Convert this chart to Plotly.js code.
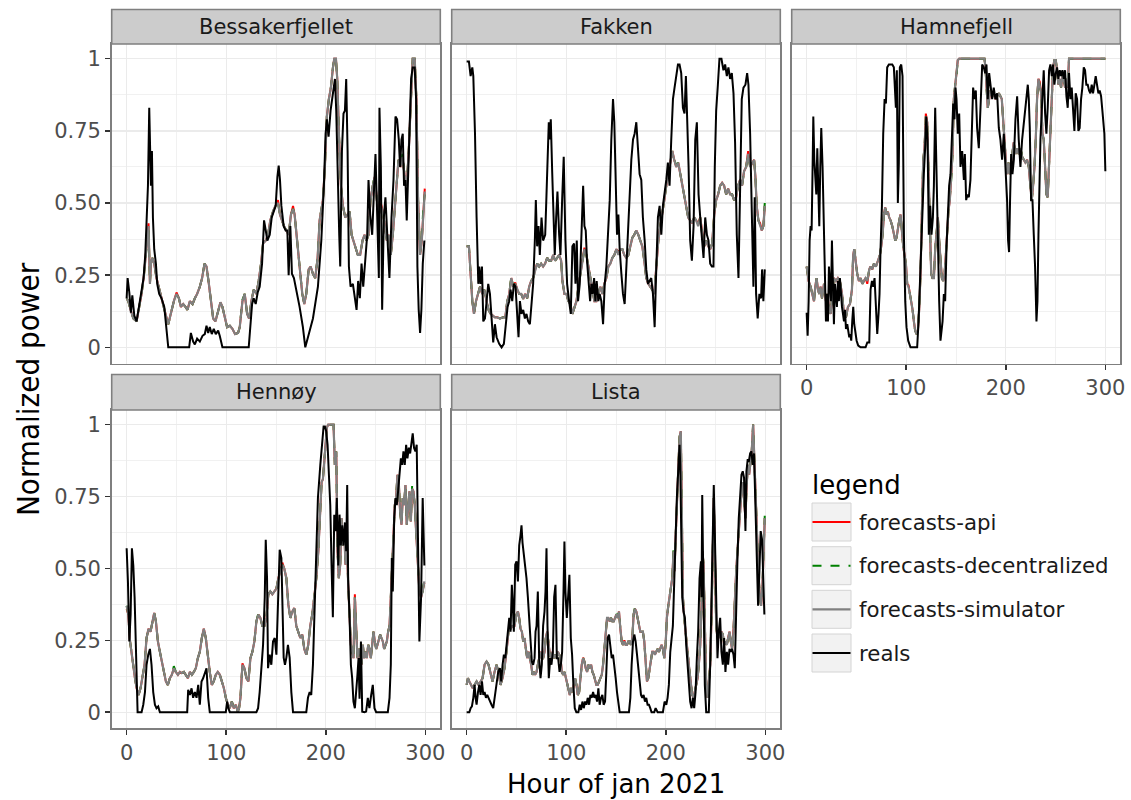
<!DOCTYPE html>
<html>
<head>
<meta charset="utf-8">
<script src="https://cdn.plot.ly/plotly-3.0.1.min.js"></script>
<style>html,body{margin:0;padding:0;background:#fff;}#chart{width:1131px;height:800px;}</style>
</head>
<body>
<div id="chart"></div>
<script>
// ---------------- DATA ----------------
const sites = ["Bessakerfjellet", "Fakken", "Hamnefjell", "Hennøy", "Lista"];
const seriesNames = ["forecasts-api", "forecasts-decentralized", "forecasts-simulator", "reals"];
const xTickVals = [0, 100, 200, 300];
const xTickText = ["0", "100", "200", "300"];
const yTickVals = [0, 0.25, 0.5, 0.75, 1];
const yTickText = ["0", "0.25", "0.50", "0.75", "1"];

// Bessakerfjellet
const bessRealHours = [0,1,2.7,4.3,5.7,7.7,10,11.7,13.4,15.7,17,18.7,20,21.4,22.7,23.4,24.4,25.4,26.4,27.7,29.4,30.7,32.7,35,37.8,41.8,62.8,64.5,66.8,68.5,70.8,73.5,76.2,78.5,80.2,81.9,83.5,85.5,87.5,89.5,91.9,93.5,96.2,122.6,124.3,126,127.6,129.6,131.6,133.6,136,138,139.7,141.3,143.7,145.7,147.7,149.7,151.4,152.7,154,155.4,157.7,159.7,161.4,162.7,164.4,166,168,170.4,173.7,177,179.4,182.1,187.1,192.1,195.5,198.1,199.8,201.1,202.8,204.8,207.2,209.2,210.5,212.2,213.5,214.5,216.2,217.8,219.2,220.5,221.9,223.2,224.9,227.2,228.9,230.9,232.5,234.2,235.9,237.6,239.6,241.6,242.9,244.6,246.6,248.6,249.9,251.6,253.3,253.9,255.3,256.6,258.3,259.9,261.9,263.9,266,268,270,271.6,273.3,274.6,276,277.3,278.6,280,281.3,282.7,284,285.7,287.3,289.3,290.7,292,293.3,294.7,296,297.4,299];
const bessReal = [0.17,0.24,0.19,0.12,0.18,0.11,0.09,0.13,0.17,0.21,0.24,0.32,0.42,0.56,0.83,0.68,0.56,0.68,0.45,0.34,0.29,0.22,0.185,0.17,0.14,0,0,0.05,0.02,0.01,0.03,0.02,0.04,0.046,0.075,0.05,0.07,0.046,0.064,0.046,0.058,0.04,0,0,0.064,0.15,0.17,0.15,0.19,0.21,0.29,0.44,0.405,0.37,0.39,0.45,0.47,0.49,0.59,0.63,0.58,0.49,0.42,0.405,0.405,0.25,0.42,0.255,0.24,0.2,0.14,0.07,0,0.035,0.1,0.21,0.37,0.56,0.74,0.79,0.73,0.82,0.88,0.93,0.82,0.51,0.39,0.28,0.68,0.81,0.82,0.93,0.68,0.28,0.21,0.22,0.17,0.13,0.23,0.17,0.29,0.21,0.3,0.39,0.58,0.46,0.39,0.59,0.67,0.46,0.24,0.83,0.625,0.13,0.45,0.52,0.39,0.24,0.45,0.58,0.8,0.79,0.72,0.625,0.72,0.74,0.56,0.58,0.44,0.6,0.79,0.93,0.97,0.97,0.86,0.28,0.13,0.05,0.13,0.29,0.37];
const bessFcHours = [0,1.7,4,6.7,10,12.7,15,17.4,20,22,23.4,24.4,25.7,27.7,30,32.7,36,39,41.8,44.1,47.4,50.1,52.5,54.5,56.8,59.1,61.1,63.5,66.2,68.5,70.8,73.5,75.8,78.2,80.2,82.2,84.5,86.9,89.2,91.9,94.2,96.2,98.6,100.9,103.6,106.2,108.9,111.9,113.6,116.3,118.6,121,123,125.3,127.6,130.3,132.6,135,137,139.7,142,144.3,147,149.3,152,154,156,158,160.4,162.7,165,167.1,168.7,170.4,172.4,174.4,176.4,178.4,180.4,182.8,184.8,187.1,189.4,191.8,193.8,195.5,197.1,199.1,201.1,203.1,205.1,207.2,208.5,210.2,211.5,213.2,215.2,217.2,219.5,221.9,223.9,225.9,227.9,229.9,232.2,234.5,236.9,238.9,240.9,242.9,244.9,247.2,249.2,251.3,253.3,255.3,257.3,259.3,261.3,263.3,265.3,267.3,269.3,271.3,273,275,277,279,281.3,283.3,285.3,287.3,289.3,291,292.7,294.7,296.4,298,299.4];
const bessSim = [0.17,0.16,0.13,0.1,0.09,0.14,0.185,0.25,0.35,0.42,0.22,0.29,0.31,0.29,0.24,0.2,0.16,0.116,0.08,0.116,0.16,0.185,0.17,0.14,0.15,0.14,0.13,0.16,0.15,0.17,0.185,0.21,0.24,0.29,0.28,0.23,0.16,0.1,0.09,0.13,0.156,0.14,0.1,0.07,0.075,0.064,0.046,0.05,0.07,0.16,0.185,0.116,0.1,0.16,0.2,0.185,0.23,0.29,0.36,0.37,0.39,0.44,0.47,0.49,0.5,0.46,0.44,0.42,0.405,0.39,0.46,0.48,0.46,0.39,0.32,0.255,0.185,0.15,0.185,0.27,0.28,0.255,0.24,0.31,0.44,0.47,0.51,0.625,0.8,0.86,0.9,0.97,1,1,0.93,0.74,0.56,0.49,0.45,0.46,0.47,0.39,0.37,0.35,0.32,0.32,0.37,0.39,0.37,0.39,0.51,0.56,0.59,0.51,0.46,0.49,0.47,0.42,0.37,0.39,0.32,0.39,0.49,0.58,0.65,0.625,0.66,0.6,0.56,0.68,0.86,1,1,0.86,0.51,0.32,0.37,0.49,0.54];
const bessApi = [0.17,0.16,0.13,0.1,0.09,0.14,0.185,0.25,0.35,0.43,0.22,0.29,0.31,0.29,0.24,0.2,0.16,0.116,0.08,0.116,0.16,0.19,0.17,0.14,0.15,0.14,0.13,0.16,0.15,0.17,0.185,0.21,0.24,0.29,0.28,0.23,0.16,0.1,0.09,0.13,0.156,0.14,0.1,0.07,0.075,0.064,0.046,0.05,0.07,0.16,0.185,0.116,0.1,0.16,0.2,0.185,0.23,0.29,0.36,0.37,0.39,0.44,0.47,0.49,0.51,0.46,0.44,0.42,0.405,0.39,0.46,0.49,0.46,0.39,0.32,0.255,0.185,0.15,0.185,0.27,0.28,0.255,0.24,0.31,0.44,0.47,0.51,0.625,0.8,0.86,0.9,0.97,1,1,0.93,0.74,0.56,0.49,0.45,0.46,0.47,0.39,0.37,0.35,0.32,0.32,0.37,0.39,0.37,0.39,0.51,0.56,0.59,0.51,0.46,0.5,0.47,0.42,0.37,0.39,0.32,0.39,0.49,0.58,0.65,0.625,0.66,0.6,0.56,0.68,0.86,1,1,0.86,0.51,0.32,0.37,0.49,0.55];
const bessDec = [0.17,0.16,0.13,0.1,0.09,0.14,0.185,0.25,0.35,0.42,0.22,0.29,0.31,0.29,0.24,0.2,0.16,0.116,0.08,0.116,0.16,0.185,0.17,0.14,0.15,0.14,0.13,0.16,0.15,0.17,0.185,0.21,0.24,0.29,0.28,0.23,0.16,0.1,0.09,0.13,0.156,0.14,0.1,0.07,0.075,0.064,0.046,0.05,0.07,0.165,0.185,0.116,0.1,0.16,0.2,0.185,0.23,0.29,0.36,0.37,0.39,0.44,0.47,0.49,0.5,0.46,0.44,0.42,0.405,0.39,0.46,0.48,0.46,0.39,0.32,0.255,0.185,0.15,0.185,0.27,0.28,0.255,0.24,0.31,0.44,0.47,0.51,0.625,0.8,0.86,0.9,0.97,1,1,0.93,0.74,0.56,0.49,0.45,0.46,0.47,0.39,0.37,0.35,0.32,0.32,0.37,0.39,0.37,0.39,0.51,0.56,0.6,0.51,0.46,0.49,0.47,0.42,0.37,0.39,0.32,0.39,0.49,0.58,0.65,0.625,0.67,0.6,0.56,0.68,0.86,1,1,0.86,0.51,0.33,0.37,0.49,0.53];

// Fakken
const fakRealHours = [0,2.3,4,5.7,6.7,8.4,10,11.7,12.7,14,15.4,16.7,18.4,20,21.7,23.4,25.1,26.7,28.4,30.1,32.7,35.1,37.4,39.4,41.1,42.8,44.1,45.8,47.4,49.1,50.8,52.1,53.5,55.1,56.8,58.5,60.1,61.8,63.5,65.2,66.8,68.5,69.5,70.8,72.2,73.5,75.2,76.8,78.9,80.2,81.5,82.5,83.5,84.5,85.9,87.2,88.5,89.9,91.2,92.9,94.2,95.9,97.5,99.2,100.9,102.9,104.6,106.2,107.9,109.3,110.6,111.9,113.6,115.3,117,118.3,119.6,120.9,122.6,124,125.3,126.6,128,129.3,130.6,132.3,133.6,135.3,137,138.7,140.3,142,143.7,145.3,147,148.3,149.7,151,152.4,153.7,155.4,157,158.7,160.4,162,163.7,165.4,167.1,168.7,170.4,172.1,173.7,175.4,177,178.8,180.4,182.1,183.8,185.4,187.1,188.8,190.5,192.1,193.8,195.5,197.1,198.8,200.5,202.1,203.8,205.5,207.2,208.8,210.5,212.2,213.8,215.5,217.2,218.8,220.2,221.5,222.9,224.5,226.2,227.9,229.6,231.2,232.9,234.6,236.2,237.9,239.6,241.3,242.9,244.6,246.3,247.9,249.2,250.6,252.3,253.9,255.9,257.9,259.6,261.3,262.9,264.6,266.3,268,269.6,271.3,273,274.6,276.3,278,280,281.7,283,284.7,286.4,288,289.3,290.7,292.3,294,295.7,296.7,298,299.4];
const fakReal = [0.99,0.99,0.94,0.97,0.94,0.74,0.45,0.22,0.28,0.22,0.28,0.09,0.1,0.16,0.22,0.185,0.09,0.017,0.08,0.035,0.012,0,0.012,0.09,0.14,0.16,0.2,0.16,0.22,0.21,0.13,0.035,0.16,0.116,0.13,0.1,0.116,0.09,0.08,0.14,0.22,0.37,0.51,0.35,0.42,0.32,0.45,0.37,0.39,0.53,0.65,0.78,0.72,0.79,0.61,0.45,0.32,0.45,0.54,0.39,0.32,0.51,0.66,0.37,0.22,0.16,0.116,0.35,0.36,0.22,0.37,0.16,0.22,0.39,0.56,0.42,0.405,0.3,0.22,0.16,0.22,0.185,0.24,0.16,0.23,0.16,0.185,0.16,0.08,0.22,0.28,0.39,0.51,0.72,0.86,0.78,0.57,0.39,0.46,0.34,0.255,0.185,0.15,0.28,0.39,0.53,0.65,0.72,0.74,0.78,0.68,0.6,0.58,0.45,0.37,0.27,0.22,0.23,0.24,0.185,0.07,0.28,0.45,0.49,0.39,0.49,0.53,0.58,0.64,0.56,0.72,0.86,0.9,0.95,0.98,0.98,0.95,0.83,0.81,0.94,0.8,0.625,0.37,0.3,0.42,0.72,0.78,0.53,0.45,0.39,0.31,0.45,0.39,0.37,0.29,0.28,0.28,0.625,0.82,0.91,1,1,0.96,0.98,0.94,0.97,0.93,0.95,0.88,0.71,0.39,0.24,0.625,0.86,0.9,0.91,0.95,0.91,0.74,0.51,0.21,0.52,0.185,0.1,0.185,0.17,0.27,0.16,0.27];
const fakFcHours = [0,2.3,4,5.7,7.4,9.4,11.4,13.4,15.7,17.7,20,22,24.1,26.1,28.4,30.7,33.4,36.8,38.8,40.8,42.8,44.8,46.8,48.8,50.8,52.8,54.8,56.8,58.8,60.8,62.8,64.8,66.8,68.8,70.8,72.8,74.8,76.8,78.8,80.9,82.9,84.9,86.9,88.9,90.9,92.9,94.9,96.2,98.2,100.2,102.2,104.2,106.2,108.3,110.3,112.3,114.3,116.3,118.3,120.3,122.3,124.3,126.3,128.3,130.3,132.3,134.3,136.3,138.3,140.3,142.3,144.3,146.3,148.3,150.4,152.4,154.4,156.4,158.3,160.4,162.4,164.4,166.4,168.4,170.4,172.4,174.4,176.4,178.4,180.4,182.4,184.4,186.4,188.4,190.5,192.5,194.5,196.5,198.5,200.5,202.5,204.5,206.5,208.5,210.5,212.5,214.5,216.5,218.5,220.5,222.5,224.5,226.5,228.5,230.5,232.5,234.6,236.6,238.6,240.6,242.6,244.6,246.6,248.6,250.6,252.6,254.6,256.6,258.6,260.6,262.6,264.6,266.6,268.6,270.6,272.6,274.6,276.6,278.6,280.7,282.7,284.7,286.7,288.7,290,291.3,293,294.7,296.4,298,299.4];
const fakSim = [0.35,0.35,0.255,0.16,0.116,0.16,0.185,0.21,0.185,0.2,0.16,0.13,0.116,0.11,0.104,0.104,0.1,0.104,0.104,0.16,0.185,0.24,0.21,0.22,0.2,0.185,0.185,0.168,0.185,0.17,0.21,0.23,0.24,0.27,0.29,0.28,0.29,0.28,0.29,0.31,0.3,0.3,0.32,0.3,0.31,0.32,0.3,0.23,0.185,0.185,0.16,0.15,0.116,0.14,0.16,0.21,0.255,0.31,0.34,0.32,0.28,0.23,0.185,0.16,0.16,0.185,0.21,0.185,0.22,0.24,0.28,0.29,0.31,0.32,0.34,0.32,0.34,0.34,0.32,0.31,0.32,0.35,0.38,0.39,0.405,0.39,0.37,0.35,0.3,0.24,0.22,0.21,0.2,0.185,0.28,0.37,0.42,0.46,0.51,0.56,0.6,0.625,0.68,0.65,0.625,0.64,0.6,0.56,0.52,0.49,0.45,0.44,0.43,0.45,0.44,0.42,0.45,0.39,0.35,0.37,0.35,0.34,0.36,0.46,0.51,0.53,0.56,0.57,0.56,0.53,0.55,0.53,0.53,0.51,0.52,0.56,0.58,0.56,0.61,0.625,0.67,0.625,0.64,0.65,0.59,0.49,0.44,0.42,0.405,0.42,0.49];
const fakApi = [0.35,0.35,0.255,0.16,0.116,0.16,0.185,0.21,0.185,0.2,0.16,0.13,0.116,0.11,0.104,0.104,0.1,0.104,0.104,0.16,0.185,0.24,0.21,0.225,0.2,0.185,0.185,0.168,0.185,0.17,0.21,0.23,0.24,0.27,0.29,0.28,0.29,0.28,0.29,0.31,0.3,0.3,0.32,0.3,0.31,0.32,0.3,0.23,0.185,0.185,0.16,0.15,0.116,0.14,0.16,0.21,0.255,0.31,0.345,0.32,0.28,0.23,0.185,0.16,0.16,0.185,0.21,0.185,0.22,0.24,0.28,0.29,0.31,0.32,0.34,0.33,0.34,0.34,0.32,0.31,0.32,0.35,0.38,0.39,0.405,0.39,0.37,0.35,0.3,0.24,0.22,0.21,0.2,0.185,0.28,0.37,0.42,0.46,0.51,0.56,0.6,0.625,0.68,0.65,0.625,0.64,0.6,0.56,0.52,0.49,0.45,0.44,0.43,0.45,0.44,0.43,0.45,0.39,0.35,0.37,0.35,0.34,0.36,0.46,0.51,0.53,0.56,0.57,0.56,0.53,0.55,0.53,0.53,0.51,0.52,0.56,0.58,0.56,0.61,0.625,0.68,0.625,0.64,0.65,0.59,0.49,0.44,0.43,0.405,0.42,0.49];
const fakDec = [0.35,0.35,0.255,0.16,0.116,0.16,0.185,0.21,0.185,0.2,0.16,0.13,0.116,0.11,0.104,0.104,0.1,0.104,0.104,0.16,0.185,0.245,0.21,0.22,0.2,0.185,0.185,0.168,0.185,0.17,0.21,0.23,0.24,0.27,0.29,0.28,0.29,0.28,0.29,0.31,0.3,0.3,0.32,0.3,0.31,0.32,0.3,0.23,0.185,0.185,0.16,0.15,0.116,0.14,0.16,0.21,0.255,0.31,0.34,0.32,0.28,0.23,0.185,0.16,0.16,0.185,0.21,0.185,0.22,0.24,0.28,0.29,0.31,0.32,0.34,0.32,0.34,0.34,0.32,0.31,0.32,0.35,0.38,0.39,0.41,0.39,0.37,0.35,0.3,0.24,0.22,0.21,0.2,0.185,0.28,0.37,0.42,0.46,0.51,0.56,0.6,0.625,0.68,0.65,0.63,0.64,0.6,0.56,0.52,0.49,0.45,0.44,0.43,0.45,0.44,0.42,0.45,0.39,0.35,0.37,0.35,0.34,0.36,0.46,0.51,0.53,0.56,0.57,0.56,0.53,0.55,0.53,0.53,0.51,0.52,0.56,0.58,0.56,0.61,0.625,0.67,0.625,0.64,0.65,0.59,0.49,0.44,0.42,0.405,0.42,0.5];

// Hamnefjell
const hamRealHours = [0,1,2,3,4,5,6,6.7,7.7,8.7,9.7,10.7,11.7,12.7,13.7,14.7,16,17.4,18.4,19.4,20.4,21.4,22.4,23.4,24.4,25.4,26.4,27.4,28.4,29.4,30.4,31.4,32.4,33.4,34.4,35.5,36.5,37.5,38.5,39.5,40.8,41.8,42.8,43.8,44.8,45.8,46.8,47.8,48.8,50.2,51.8,54.2,59.2,60.9,62.9,64.2,65.6,66.9,68.2,69.6,70.9,72.2,73.2,74.2,75.6,76.9,78.3,79.6,80.9,82.6,86,87.6,88.6,89.6,90.6,91.6,92.6,93.6,95,96.3,97.7,99,100.3,102,104.3,111,112.4,113.7,115,116.4,117.7,119,120.1,121.4,122.7,124.1,125.4,126.8,127.8,129.1,130.4,131.8,133.1,134.4,136.5,137.8,139.1,140.5,141.8,143.1,144.5,145.8,147.2,148.5,149.5,150.5,151.8,153.2,154.5,156.2,157.9,158.9,160.2,161.5,162.9,164.5,165.9,167.2,168.6,169.9,171.2,172.9,174.6,176.3,177.9,179.3,180.6,181.9,183.3,184.6,186.3,187.9,189.6,191.3,193,194.6,196.3,198,199.7,201.3,202.3,203.3,204.3,205.4,206.7,208.1,209.7,211.4,213,214.7,216.4,218.1,219.7,220.7,222.1,223.1,224.1,225.4,226.8,228.1,229.4,230.8,231.8,232.8,233.8,234.8,236.1,237.1,238.1,239.5,240.8,242.1,243.5,244.8,246.2,247.5,248.8,250.2,251.5,252.8,254.2,255.5,256.9,258.2,259.5,260.9,262.2,263.5,264.9,266.2,267.6,268.9,270.2,271.6,272.9,274.2,275.6,276.9,278.3,279.6,280.9,282.3,283.6,284.9,286.3,287.6,289,290.3,291.6,293,294.3,295.7,297,298.3,299,300];
const hamReal = [0.12,0.04,0.16,0.37,0.42,0.405,0.625,0.8,0.65,0.6,0.53,0.69,0.53,0.42,0.625,0.76,0.625,0.39,0.16,0.09,0.185,0.09,0.28,0.22,0.16,0.37,0.16,0.08,0.22,0.16,0.14,0.23,0.16,0.24,0.185,0.14,0.116,0.09,0.13,0.064,0.08,0.046,0.035,0.046,0.023,0.09,0.14,0.08,0.046,0.023,0.006,0,0,0.017,0.017,0.2,0.23,0.21,0.24,0.14,0.046,0.116,0.185,0.34,0.49,0.74,0.86,0.845,0.97,0.98,0.98,0.97,0.86,0.83,0.96,0.5,0.64,0.97,0.98,0.94,0.39,0.16,0.07,0.023,0,0,0.09,0.23,0.37,0.51,0.6,0.69,0.8,0.72,0.39,0.49,0.39,0.45,0.56,0.83,0.58,0.34,0.16,0.023,0.09,0.185,0.16,0.35,0.44,0.56,0.6,0.71,0.845,0.79,0.9,0.86,0.74,0.81,0.625,0.68,0.58,0.67,0.51,0.53,0.52,0.58,0.76,0.9,0.86,0.89,0.76,0.69,0.83,0.98,0.97,0.95,0.98,0.86,0.95,0.91,0.86,0.9,0.86,0.88,0.76,0.72,0.65,0.74,0.625,0.51,0.37,0.33,0.51,0.67,0.6,0.65,0.79,0.87,0.72,0.625,0.72,0.78,0.82,0.86,0.91,0.86,0.76,0.51,0.51,0.39,0.28,0.09,0.16,0.39,0.65,0.72,0.82,0.91,0.96,0.81,0.74,0.83,0.96,0.98,0.94,0.98,0.91,0.95,0.97,0.93,0.96,0.94,0.96,0.93,0.96,0.87,0.83,0.95,0.86,0.9,0.82,0.75,0.88,0.86,0.75,0.76,0.86,0.9,0.97,0.96,0.91,0.91,0.89,0.88,0.91,0.88,0.91,0.94,0.91,0.88,0.89,0.87,0.82,0.76,0.74,0.61];
const hamFcHours = [0,2,4,6,7.4,8.7,10,11.4,12.7,14,15.4,17.4,19.4,20.7,22.7,24.1,25.8,27.4,29.4,31.4,33.4,35.5,37.5,39.5,41.5,43.5,45.5,46.8,47.8,49.2,50.8,52.5,54.2,55.9,57.5,59.2,60.9,62.9,64.2,65.9,67.6,69.6,71.6,73.6,74.9,76.3,77.6,78.9,80.3,81.6,82.9,84.3,86,87.6,89,90.3,91.6,93,94.3,95.7,97,98.3,99.7,101,102.3,103.7,105,106.4,107.7,109,110.4,111.7,113,114.4,115.7,117.1,118.4,119.7,121.1,122.4,123.7,125.1,126.4,127.8,129.1,130.4,131.8,133.1,134.4,135.8,137.1,138.5,139.8,141.1,142.5,143.8,145.2,146.5,147.8,149.2,150.5,151.8,153.2,178.6,179.6,180.6,181.9,183.3,184.6,186.3,188,189.6,191.3,193,194.6,196,197.3,198.7,200,201.3,202.7,204,205.4,206.7,208,209.7,211.4,213,214.7,216.4,218.1,219.7,221.4,223.1,224.7,226.1,227.4,228.8,230.1,231.4,232.8,234.1,235.5,236.8,238.1,239.5,240.8,242.1,243.5,244.8,246.2,247.5,248.8,250.2,251.5,252.8,254.2,255.5,256.9,258.2,259.5,260.9,262.2,263.5,264.9,300];
const hamSim = [0.28,0.23,0.21,0.185,0.16,0.21,0.24,0.2,0.185,0.21,0.17,0.22,0.16,0.185,0.13,0.116,0.185,0.24,0.23,0.24,0.23,0.185,0.116,0.104,0.14,0.15,0.2,0.32,0.34,0.29,0.255,0.23,0.24,0.22,0.23,0.24,0.23,0.27,0.28,0.27,0.29,0.28,0.3,0.32,0.35,0.39,0.46,0.485,0.46,0.47,0.45,0.44,0.42,0.39,0.37,0.38,0.42,0.44,0.46,0.39,0.35,0.32,0.29,0.22,0.21,0.185,0.16,0.13,0.09,0.058,0.046,0.058,0.13,0.255,0.46,0.65,0.69,0.8,0.78,0.625,0.45,0.255,0.24,0.24,0.34,0.39,0.45,0.37,0.3,0.24,0.23,0.255,0.32,0.405,0.475,0.51,0.58,0.67,0.86,0.91,0.94,0.995,1,1,0.97,0.9,0.83,0.86,0.89,0.87,0.88,0.86,0.87,0.88,0.87,0.86,0.79,0.69,0.65,0.6,0.64,0.6,0.64,0.69,0.71,0.67,0.69,0.67,0.69,0.66,0.65,0.64,0.65,0.625,0.56,0.51,0.56,0.625,0.72,0.86,0.93,0.91,0.88,0.74,0.72,0.625,0.53,0.52,0.625,0.74,0.88,0.97,0.995,0.995,0.96,0.91,0.93,0.9,0.94,0.93,0.9,0.93,0.9,1,1,1];
const hamApi = [0.28,0.23,0.21,0.185,0.16,0.21,0.24,0.2,0.185,0.21,0.17,0.22,0.16,0.185,0.13,0.116,0.185,0.24,0.23,0.24,0.23,0.185,0.116,0.104,0.14,0.15,0.2,0.32,0.34,0.29,0.255,0.23,0.24,0.22,0.23,0.24,0.22,0.27,0.28,0.27,0.29,0.28,0.3,0.32,0.35,0.39,0.46,0.485,0.46,0.47,0.45,0.44,0.42,0.39,0.37,0.38,0.42,0.44,0.46,0.39,0.35,0.32,0.29,0.22,0.215,0.185,0.16,0.13,0.09,0.058,0.046,0.058,0.13,0.255,0.46,0.65,0.69,0.81,0.78,0.625,0.45,0.255,0.24,0.24,0.34,0.39,0.45,0.37,0.3,0.24,0.23,0.255,0.32,0.405,0.475,0.51,0.58,0.67,0.86,0.91,0.94,0.995,1,1,0.97,0.9,0.83,0.86,0.89,0.87,0.88,0.86,0.87,0.88,0.87,0.86,0.79,0.69,0.65,0.6,0.64,0.6,0.64,0.69,0.71,0.67,0.69,0.67,0.69,0.66,0.65,0.64,0.65,0.625,0.56,0.51,0.56,0.625,0.72,0.86,0.93,0.92,0.88,0.74,0.72,0.625,0.53,0.52,0.625,0.74,0.88,0.97,0.995,0.995,0.96,0.91,0.93,0.9,0.94,0.93,0.9,0.93,0.9,1,1,1];
const hamDec = [0.28,0.23,0.21,0.185,0.16,0.21,0.24,0.2,0.185,0.21,0.17,0.22,0.16,0.185,0.13,0.116,0.185,0.24,0.23,0.24,0.23,0.185,0.116,0.104,0.14,0.15,0.2,0.33,0.34,0.29,0.255,0.23,0.24,0.22,0.23,0.24,0.23,0.27,0.28,0.27,0.29,0.28,0.3,0.32,0.35,0.39,0.46,0.49,0.46,0.47,0.45,0.44,0.42,0.39,0.37,0.38,0.42,0.44,0.46,0.39,0.35,0.32,0.29,0.22,0.21,0.185,0.16,0.13,0.09,0.058,0.046,0.058,0.13,0.255,0.46,0.65,0.69,0.8,0.78,0.625,0.45,0.255,0.24,0.24,0.34,0.39,0.45,0.37,0.3,0.24,0.23,0.255,0.32,0.405,0.475,0.52,0.58,0.67,0.86,0.91,0.94,0.995,1,1,0.97,0.9,0.83,0.86,0.89,0.87,0.88,0.86,0.87,0.88,0.87,0.86,0.79,0.69,0.65,0.6,0.64,0.6,0.64,0.69,0.71,0.67,0.69,0.67,0.7,0.66,0.65,0.64,0.65,0.625,0.56,0.51,0.56,0.625,0.72,0.86,0.93,0.91,0.88,0.74,0.72,0.625,0.53,0.52,0.625,0.74,0.88,0.97,0.995,0.995,0.96,0.91,0.93,0.9,0.94,0.93,0.9,0.93,0.9,1,1,1];

// Hennøy
const henRealHours = [0,1.3,2.7,4,5.3,6.7,8,9.4,11,15,16.7,18.4,20,21.7,23.4,25,26.7,28.4,30,31.7,33.4,60.8,61.8,63.5,65.2,66.8,68.5,70.2,71.9,73.5,75.2,76.8,78.5,80.2,81.9,83.5,99.6,100.9,102.2,103.6,130.3,132,133.6,135.3,137,138.7,139.7,141,142,143.7,145.3,147,148.7,150.4,152,153.7,155.4,156.4,157.7,159,160.4,162,163.7,165.4,167.1,180.4,182.1,183.8,185.4,187.1,189.8,192.1,194.5,196.5,197.8,199.1,200.4,201.8,203.1,204.5,205.8,207.1,208.5,209.8,211.1,212.5,213.8,215.1,216.5,217.8,219.2,220.5,221.5,222.5,223.8,225.2,226.5,227.8,229.2,230.5,231.8,232.9,233.9,235.3,236.6,238.9,240.5,242.2,243.8,245.6,247.2,248.9,250.6,262.3,264,265.3,266.3,267.3,268.7,270,271.3,272.6,274,275.4,276.7,278,279.3,280.7,282,283.4,284.7,286,287.3,288.6,290,291.3,292.7,294,295.7,297.3,299];
const henReal = [0.57,0.455,0.246,0.34,0.57,0.51,0.4,0.165,0,0,0.026,0.07,0.165,0.2,0.22,0.165,0.07,0.026,0.014,0.02,0,0,0.078,0.06,0.083,0.05,0.07,0.05,0.095,0.026,0.107,0.118,0.136,0.153,0.05,0,0,0.037,0.014,0,0,0.014,0.07,0.165,0.234,0.4,0.6,0.466,0.153,0.2,0.165,0.246,0.258,0.2,0.4,0.565,0.536,0.42,0.19,0.165,0.19,0.234,0.19,0.07,0,0,0.05,0.07,0.06,0.165,0.455,0.745,0.86,0.95,0.994,0.994,0.977,0.93,0.84,0.72,0.51,0.33,0.687,0.63,0.745,0.51,0.687,0.58,0.65,0.58,0.66,0.56,0.79,0.455,0.34,0.165,0.118,0.037,0.014,0.06,0.13,0.188,0.047,0.246,0.002,0,0.002,0.05,0.014,0.06,0.095,0.014,0,0,0.05,0.165,0.536,0.42,0.675,0.745,0.72,0.768,0.84,0.883,0.86,0.907,0.86,0.93,0.883,0.92,0.9,0.93,0.97,0.92,0.907,0.93,0.51,0.246,0.4,0.745,0.51];
const henFcHours = [0,1.7,3.3,5.3,6.7,8.4,10,12,14,16,18,20,22,24,26,27.7,29.4,31.4,33.4,35.4,37.4,39.4,41.4,43.4,45.4,47.4,49.4,51.5,53.5,55.5,57.5,59.5,61.5,63.5,65.5,67.5,69.5,71.5,73.5,75.5,77.5,79.5,81.5,83.5,85.5,87.5,89.5,91.5,93.6,95.6,97.6,99.6,101.6,103.6,105.6,107.6,109.6,111.6,112.9,114.3,116.3,118.3,120.3,122.3,124.3,126.3,128.3,130.3,132.3,134.3,136.3,138.3,140.3,142.3,144.3,146.3,148.3,150.4,152.4,154.4,156.4,158.3,160.4,162.4,164.4,166.4,168.4,170.4,172.4,174.4,176.4,178.4,180.4,182.4,184.4,186.4,188.4,190.5,192.5,194.5,195.8,197.1,198.4,199.8,201.1,202.4,207.8,209.1,210.5,211.8,213.1,214.5,215.8,217.1,218.5,219.8,221.1,222.5,223.8,225.2,226.5,227.8,229.2,230.5,231.8,233.2,234.5,235.9,237.2,238.5,239.9,241.2,242.6,243.9,245.2,246.6,247.9,249.2,250.6,251.9,253.2,254.6,255.9,257.3,258.6,259.9,261.3,262.6,264,265.3,266.6,268,269.3,270.6,272,273.3,274.6,276,277.3,278.6,280,281.3,282.7,284,285.4,286.7,288,289.4,290.7,292.4,294,295.7,297.3,299];
const henSim = [0.37,0.34,0.25,0.19,0.153,0.118,0.084,0.06,0.084,0.118,0.165,0.258,0.29,0.28,0.316,0.345,0.316,0.246,0.21,0.176,0.14,0.107,0.095,0.118,0.13,0.153,0.14,0.13,0.14,0.136,0.14,0.13,0.118,0.14,0.13,0.14,0.153,0.188,0.21,0.258,0.29,0.258,0.188,0.14,0.095,0.107,0.13,0.14,0.13,0.107,0.084,0.05,0.026,0.014,0.037,0.014,0.026,0.002,0.014,0.05,0.165,0.153,0.118,0.107,0.188,0.21,0.246,0.316,0.34,0.328,0.3,0.3,0.328,0.41,0.42,0.41,0.42,0.43,0.466,0.49,0.513,0.5,0.466,0.374,0.328,0.35,0.362,0.3,0.28,0.258,0.27,0.22,0.2,0.234,0.3,0.34,0.4,0.466,0.56,0.72,0.8,0.81,0.86,0.92,0.99,1,1,0.86,0.907,0.56,0.466,0.513,0.675,0.58,0.63,0.513,0.6,0.443,0.328,0.234,0.21,0.188,0.4,0.258,0.188,0.22,0.21,0.165,0.234,0.188,0.21,0.188,0.234,0.22,0.188,0.234,0.28,0.246,0.22,0.234,0.258,0.27,0.258,0.246,0.22,0.234,0.246,0.28,0.3,0.4,0.49,0.58,0.72,0.745,0.826,0.8,0.7,0.652,0.745,0.72,0.79,0.652,0.72,0.768,0.663,0.777,0.768,0.72,0.63,0.513,0.42,0.4,0.42,0.455];
const henApi = [0.36,0.34,0.25,0.19,0.153,0.118,0.084,0.06,0.084,0.118,0.165,0.258,0.29,0.28,0.316,0.345,0.316,0.246,0.21,0.176,0.14,0.107,0.095,0.118,0.13,0.153,0.14,0.13,0.14,0.136,0.14,0.13,0.118,0.14,0.13,0.14,0.153,0.188,0.21,0.258,0.29,0.258,0.188,0.14,0.095,0.107,0.13,0.14,0.13,0.107,0.084,0.05,0.026,0.014,0.037,0.014,0.026,0.002,0.014,0.05,0.17,0.153,0.118,0.107,0.188,0.21,0.246,0.316,0.34,0.328,0.3,0.3,0.328,0.41,0.42,0.41,0.42,0.43,0.466,0.49,0.52,0.5,0.466,0.374,0.328,0.35,0.362,0.3,0.28,0.258,0.27,0.22,0.2,0.234,0.3,0.34,0.4,0.466,0.56,0.72,0.8,0.81,0.86,0.92,0.99,1,1,0.86,0.907,0.56,0.466,0.513,0.675,0.58,0.63,0.513,0.6,0.443,0.328,0.234,0.21,0.188,0.41,0.258,0.188,0.22,0.21,0.165,0.234,0.188,0.21,0.188,0.234,0.22,0.188,0.234,0.28,0.246,0.22,0.234,0.258,0.27,0.258,0.246,0.22,0.234,0.246,0.28,0.3,0.4,0.49,0.58,0.72,0.745,0.826,0.8,0.7,0.652,0.745,0.72,0.79,0.652,0.72,0.768,0.663,0.777,0.768,0.72,0.63,0.513,0.42,0.4,0.42,0.45];
const henDec = [0.37,0.34,0.25,0.19,0.153,0.118,0.084,0.06,0.084,0.118,0.165,0.258,0.29,0.28,0.316,0.345,0.316,0.246,0.21,0.176,0.14,0.107,0.095,0.118,0.13,0.16,0.14,0.13,0.14,0.136,0.14,0.13,0.118,0.14,0.13,0.14,0.153,0.188,0.21,0.258,0.29,0.258,0.188,0.14,0.095,0.107,0.13,0.14,0.13,0.107,0.084,0.05,0.026,0.014,0.037,0.02,0.026,0.002,0.014,0.05,0.165,0.153,0.118,0.107,0.188,0.21,0.246,0.316,0.345,0.328,0.3,0.3,0.328,0.41,0.42,0.41,0.42,0.43,0.466,0.49,0.513,0.5,0.466,0.374,0.328,0.35,0.362,0.3,0.28,0.258,0.27,0.22,0.2,0.234,0.3,0.34,0.4,0.466,0.56,0.72,0.8,0.81,0.86,0.92,0.99,1,1,0.86,0.907,0.56,0.466,0.513,0.675,0.58,0.63,0.513,0.6,0.443,0.328,0.234,0.21,0.188,0.4,0.258,0.188,0.22,0.21,0.165,0.234,0.188,0.21,0.188,0.234,0.22,0.188,0.234,0.28,0.246,0.22,0.234,0.258,0.27,0.258,0.246,0.22,0.234,0.246,0.28,0.3,0.4,0.49,0.58,0.72,0.745,0.83,0.8,0.7,0.652,0.745,0.72,0.79,0.652,0.72,0.768,0.663,0.787,0.768,0.72,0.63,0.513,0.42,0.4,0.42,0.465];

// Lista
const lisRealHours = [0,2.7,4,5.3,6.7,8,9,10,11.4,12.7,14,15.4,16.7,18,19.4,20.7,22,23.4,25,26.7,28.4,30,31.7,33.4,34.7,36.1,37.4,38.8,40.1,41.4,42.8,44.1,45.4,46.4,47.4,48.8,50.1,51.5,52.8,54.1,55.1,56.1,57.5,58.8,60.1,61.5,62.8,64.2,65.5,66.8,68.2,69.2,70.2,71.5,72.8,74.2,75.5,76.8,78.2,79.2,80.2,81.2,82.5,83.9,85.2,86.6,87.9,89.2,90.6,91.9,93.3,94.6,95.9,97.3,98.2,99.2,100.6,101.9,103.2,104.6,105.9,107.2,108.6,110.2,112.2,113.6,114.9,116.3,117.6,119,120.3,121.6,123,124.3,125.6,127,128.3,129.6,131,132.3,133.6,135,136.3,137.6,139,140.3,141.6,143,144.3,145.7,147,148.3,149.7,151,152.4,153.7,163,164.4,165.7,167.1,168.4,169.7,171.1,172.4,173.7,175.1,176.4,177.7,179.1,180.4,181.7,183.1,184.4,185.7,188.4,189.8,191.8,197.1,198.8,200.5,201.8,203.1,204.5,205.8,207.1,208.5,209.8,211.1,212.5,213.8,214.5,215.5,216.5,217.8,219.2,220.5,221.9,223.2,224.5,225.9,227.2,228.5,229.9,231.2,232.5,233.9,235.3,235.9,236.6,237.3,238.2,239.2,240.6,243.2,244.6,245.9,247.2,248.2,249.2,250.6,251.9,253.2,254.6,255.9,257.3,258.6,259.9,261.3,262.6,264,265.3,266.6,268,269.3,270.6,272,273.3,274.6,276,277.3,278.6,280,281,282.3,283.3,284.7,286,287.3,288.6,290,291.3,292.7,294,295.3,296.7,298,299];
const lisReal = [0,0,0.014,0.02,0.05,0.095,0.05,0.026,0.07,0.095,0.06,0.107,0.06,0.07,0.05,0.06,0.05,0.037,0.026,0.014,0.06,0.095,0.14,0.153,0.107,0.165,0.2,0.188,0.234,0.3,0.328,0.28,0.443,0.37,0.28,0.513,0.525,0.455,0.58,0.615,0.65,0.59,0.545,0.513,0.466,0.4,0.328,0.246,0.176,0.165,0.188,0.28,0.3,0.42,0.188,0.118,0.165,0.3,0.35,0.42,0.57,0.3,0.118,0.188,0.165,0.21,0.4,0.443,0.188,0.188,0.14,0.165,0.21,0.42,0.594,0.42,0.328,0.4,0.478,0.258,0.2,0.095,0.014,0,0,0.026,0.008,0.037,0.014,0.037,0.026,0.05,0.026,0.06,0.05,0.07,0.05,0.06,0.037,0.083,0.026,0.05,0.06,0.026,0.037,0.14,0.258,0.27,0.234,0.188,0.2,0.165,0.118,0.07,0.026,0,0,0.05,0.165,0.246,0.27,0.246,0.2,0.153,0.107,0.06,0.05,0.06,0.037,0.05,0.026,0.026,0.014,0,0,0.014,0,0,0.037,0.026,0.05,0.095,0.21,0.258,0.3,0.455,0.63,0.745,0.84,0.93,0.86,0.56,0.4,0.35,0.328,0.234,0.165,0.095,0.037,0.014,0.05,0.014,0.07,0.188,0.28,0.466,0.525,0.4,0.755,0.56,0.3,0.095,0,0,0.165,0.4,0.63,0.79,0.63,0.328,0.188,0.28,0.328,0.21,0.165,0.258,0.14,0.21,0.165,0.22,0.21,0.22,0.2,0.153,0.4,0.536,0.675,0.745,0.826,0.838,0.815,0.63,0.838,0.88,0.87,0.9,0.907,0.86,0.9,0.72,0.513,0.37,0.49,0.63,0.6,0.45,0.34];
const lisFcHours = [0,1.3,2.7,4,6,8,10,12,14,16,18,20,22,24,26,28,30,32,34,36,38,40,42,44,46,48,50.1,51.5,52.8,54.1,55.5,56.8,58.1,59.5,60.8,62.1,63.5,64.8,66.2,67.5,68.8,70.2,71.5,72.8,74.2,75.5,76.8,78.2,79.5,80.9,82.2,83.6,84.9,86.3,87.6,89,90.3,91.6,93,94.3,95.6,97,98.3,99.6,101,102.3,103.6,104.9,106.2,107.6,108.9,110.3,111.6,113,114.3,115.6,117,118.3,119.6,121,122.3,123.6,125,126.3,127.6,129,130.3,131.6,133,134.3,135.7,137,138.3,139.7,141,142.3,143.7,145,146.3,147.7,149,150.4,151.7,153,154.4,155.7,157,158.4,159.7,161,162.4,163.7,165,166.4,167.7,169,170.4,171.7,173,174.4,175.7,177,178.4,179.8,181.1,182.4,183.7,185.1,186.4,187.8,189.1,190.4,191.8,193.1,194.5,195.8,197.1,198.5,199.8,201.1,202.5,203.8,205.1,206.5,207.8,208.8,209.8,211.1,212.5,213.8,215.1,216.2,217.2,218.5,219.8,221.2,222.5,223.9,225.2,226.5,227.9,229.2,230.6,231.9,233.2,234.6,235.9,236.9,237.9,239.2,240.6,241.9,243.2,244.6,245.9,247.2,248.2,249.2,250.6,251.9,253.2,254.6,255.9,257.3,258.6,259.9,261.3,262.6,264,265.3,266.6,268,269.3,270.7,272,273.3,274.7,276,277.3,278.7,280,281,282.3,283.7,285,286.3,287.7,289,290.4,291.7,293,294.4,295.7,297.1,298.4,299.4];
const lisSim = [0.095,0.118,0.107,0.095,0.084,0.095,0.107,0.095,0.107,0.118,0.165,0.176,0.165,0.13,0.107,0.14,0.165,0.14,0.095,0.118,0.153,0.21,0.28,0.29,0.3,0.3,0.34,0.35,0.328,0.29,0.28,0.246,0.258,0.22,0.188,0.21,0.188,0.165,0.13,0.14,0.13,0.14,0.165,0.188,0.21,0.188,0.188,0.21,0.258,0.28,0.234,0.2,0.188,0.21,0.188,0.2,0.188,0.21,0.2,0.188,0.14,0.13,0.14,0.118,0.095,0.07,0.06,0.084,0.07,0.095,0.118,0.095,0.06,0.07,0.118,0.165,0.188,0.176,0.153,0.14,0.165,0.153,0.165,0.14,0.13,0.107,0.095,0.095,0.107,0.118,0.13,0.165,0.21,0.28,0.328,0.328,0.316,0.328,0.316,0.316,0.328,0.34,0.328,0.35,0.29,0.246,0.234,0.246,0.234,0.234,0.246,0.246,0.234,0.258,0.34,0.36,0.35,0.328,0.316,0.28,0.28,0.28,0.246,0.165,0.107,0.118,0.153,0.188,0.21,0.21,0.2,0.21,0.22,0.21,0.22,0.234,0.22,0.188,0.234,0.328,0.37,0.4,0.42,0.466,0.56,0.49,0.6,0.72,0.84,0.957,0.977,0.63,0.4,0.328,0.28,0.21,0.188,0.14,0.095,0.06,0.05,0.07,0.095,0.118,0.165,0.234,0.37,0.56,0.513,0.328,0.095,0.05,0.095,0.165,0.328,0.56,0.745,0.58,0.3,0.258,0.28,0.258,0.28,0.27,0.234,0.246,0.234,0.258,0.28,0.246,0.22,0.28,0.4,0.49,0.56,0.63,0.7,0.768,0.8,0.745,0.675,0.768,0.86,0.826,0.86,0.907,1,0.86,0.745,0.6,0.49,0.4,0.37,0.44,0.56,0.675];
const lisApi = [0.095,0.118,0.107,0.095,0.084,0.095,0.107,0.095,0.107,0.118,0.165,0.176,0.165,0.13,0.107,0.14,0.165,0.14,0.095,0.118,0.153,0.21,0.28,0.29,0.3,0.3,0.34,0.35,0.328,0.29,0.28,0.246,0.258,0.22,0.188,0.21,0.188,0.165,0.13,0.14,0.13,0.14,0.165,0.188,0.21,0.188,0.188,0.21,0.258,0.28,0.234,0.2,0.188,0.21,0.188,0.2,0.188,0.21,0.2,0.188,0.14,0.13,0.14,0.118,0.095,0.07,0.06,0.084,0.07,0.095,0.118,0.095,0.06,0.07,0.118,0.165,0.19,0.176,0.153,0.14,0.165,0.153,0.165,0.14,0.13,0.107,0.095,0.095,0.107,0.118,0.13,0.165,0.21,0.28,0.328,0.328,0.316,0.328,0.316,0.316,0.328,0.34,0.328,0.35,0.29,0.246,0.234,0.25,0.234,0.234,0.246,0.246,0.234,0.258,0.34,0.36,0.35,0.328,0.316,0.28,0.28,0.28,0.246,0.165,0.107,0.118,0.153,0.188,0.21,0.21,0.2,0.21,0.22,0.21,0.22,0.234,0.22,0.188,0.234,0.328,0.37,0.4,0.42,0.466,0.56,0.49,0.6,0.72,0.84,0.957,0.977,0.63,0.4,0.328,0.28,0.21,0.188,0.14,0.095,0.06,0.05,0.07,0.095,0.118,0.165,0.234,0.37,0.56,0.513,0.328,0.095,0.05,0.095,0.165,0.328,0.56,0.745,0.58,0.3,0.258,0.28,0.258,0.28,0.27,0.234,0.246,0.234,0.258,0.28,0.246,0.22,0.29,0.4,0.49,0.56,0.63,0.7,0.768,0.8,0.745,0.675,0.768,0.86,0.826,0.86,0.907,1,0.86,0.745,0.6,0.49,0.4,0.37,0.44,0.56,0.675];
const lisDec = [0.095,0.118,0.107,0.095,0.084,0.095,0.107,0.095,0.107,0.118,0.165,0.176,0.165,0.13,0.107,0.14,0.165,0.14,0.095,0.118,0.153,0.21,0.28,0.29,0.3,0.3,0.34,0.35,0.328,0.29,0.28,0.246,0.258,0.22,0.188,0.21,0.188,0.165,0.13,0.14,0.13,0.14,0.165,0.188,0.21,0.188,0.188,0.21,0.258,0.28,0.234,0.2,0.188,0.21,0.188,0.2,0.188,0.21,0.2,0.188,0.14,0.13,0.14,0.118,0.095,0.07,0.06,0.084,0.07,0.095,0.118,0.095,0.06,0.07,0.118,0.165,0.188,0.176,0.153,0.14,0.165,0.153,0.165,0.14,0.13,0.107,0.095,0.095,0.107,0.118,0.13,0.165,0.21,0.28,0.328,0.328,0.316,0.328,0.316,0.316,0.328,0.345,0.328,0.35,0.29,0.246,0.234,0.246,0.234,0.234,0.246,0.246,0.234,0.258,0.34,0.365,0.35,0.328,0.316,0.28,0.28,0.28,0.246,0.165,0.107,0.118,0.153,0.188,0.21,0.21,0.2,0.21,0.22,0.21,0.22,0.234,0.22,0.188,0.234,0.328,0.37,0.4,0.42,0.466,0.57,0.49,0.6,0.72,0.84,0.957,0.98,0.63,0.4,0.328,0.28,0.21,0.188,0.14,0.095,0.06,0.05,0.07,0.095,0.118,0.165,0.234,0.37,0.56,0.513,0.328,0.095,0.05,0.095,0.165,0.328,0.56,0.745,0.58,0.3,0.258,0.28,0.258,0.28,0.27,0.234,0.246,0.234,0.258,0.28,0.246,0.22,0.28,0.4,0.49,0.56,0.63,0.7,0.768,0.8,0.745,0.675,0.768,0.86,0.826,0.86,0.907,1,0.86,0.745,0.6,0.49,0.4,0.37,0.44,0.56,0.685];

// ---------------- CHART ----------------
const W = 1131, H = 800;
const px = v => v / W;
const py = v => 1 - v / H;
const FONT = "DejaVu Sans, Verdana, sans-serif";
const colors = {api: "#FF0000", dec: "#008000", sim: "#808080", real: "#000000"};

const colX = [[111.7, 440.3], [451.7, 780.3], [791.7, 1120.3]];
const rowY = [[44, 363.5], [410, 728.3]];
const stripY = [[9.5, 44], [374.5, 410]];

const panels = [
  {site: sites[0], col: 0, row: 0, rh: bessRealHours, r: bessReal, fh: bessFcHours, api: bessApi, dec: bessDec, sim: bessSim, xl: false, yl: true},
  {site: sites[1], col: 1, row: 0, rh: fakRealHours, r: fakReal, fh: fakFcHours, api: fakApi, dec: fakDec, sim: fakSim, xl: false, yl: false},
  {site: sites[2], col: 2, row: 0, rh: hamRealHours, r: hamReal, fh: hamFcHours, api: hamApi, dec: hamDec, sim: hamSim, xl: true, yl: false},
  {site: sites[3], col: 0, row: 1, rh: henRealHours, r: henReal, fh: henFcHours, api: henApi, dec: henDec, sim: henSim, xl: true, yl: true},
  {site: sites[4], col: 1, row: 1, rh: lisRealHours, r: lisReal, fh: lisFcHours, api: lisApi, dec: lisDec, sim: lisSim, xl: true, yl: false}
];

const traces = [];
const layout = {
  width: W, height: H,
  margin: {l: 0, r: 0, t: 0, b: 0},
  paper_bgcolor: "#FFFFFF",
  plot_bgcolor: "#FFFFFF",
  showlegend: false,
  font: {family: FONT, color: "#1A1A1A"},
  shapes: [],
  annotations: []
};

panels.forEach((p, i) => {
  const xa = i === 0 ? "x" : "x" + (i + 1);
  const ya = i === 0 ? "y" : "y" + (i + 1);
  const common = {xaxis: xa, yaxis: ya, mode: "lines", hoverinfo: "skip"};
  traces.push(Object.assign({}, common, {name: seriesNames[0], x: p.fh, y: p.api, line: {color: colors.api, width: 2}}));
  traces.push(Object.assign({}, common, {name: seriesNames[1], x: p.fh, y: p.dec, line: {color: colors.dec, width: 2, dash: "dash"}}));
  traces.push(Object.assign({}, common, {name: seriesNames[2], x: p.fh, y: p.sim, line: {color: colors.sim, width: 2.2}}));
  traces.push(Object.assign({}, common, {name: seriesNames[3], x: p.rh, y: p.r, line: {color: colors.real, width: 2}}));

  const xk = i === 0 ? "xaxis" : "xaxis" + (i + 1);
  const yk = i === 0 ? "yaxis" : "yaxis" + (i + 1);
  layout[xk] = {
    domain: [px(colX[p.col][0]), px(colX[p.col][1])],
    anchor: ya,
    range: [-15, 315],
    tickvals: xTickVals, ticktext: xTickText,
    showticklabels: p.xl,
    ticks: p.xl ? "outside" : "",
    ticklen: 5, tickwidth: 1.5, tickcolor: "#333333",
    tickfont: {family: FONT, size: 21, color: "#4D4D4D"},
    showgrid: true, gridcolor: "#EBEBEB", gridwidth: 1.4,
    minor: {tickvals: [50, 150, 250], showgrid: true, gridcolor: "#EBEBEB", gridwidth: 0.7, ticks: ""},
    zeroline: false,
    showline: true, mirror: true, linecolor: "#7F7F7F", linewidth: 1.6,
    fixedrange: true
  };
  layout[yk] = {
    domain: [py(rowY[p.row][1]), py(rowY[p.row][0])],
    anchor: xa,
    range: [-0.056, 1.051],
    tickvals: yTickVals, ticktext: yTickText,
    showticklabels: p.yl,
    ticks: p.yl ? "outside" : "",
    ticklen: 5, tickwidth: 1.5, tickcolor: "#333333",
    tickfont: {family: FONT, size: 21, color: "#4D4D4D"},
    showgrid: true, gridcolor: "#EBEBEB", gridwidth: 1.4,
    minor: {tickvals: [0.125, 0.375, 0.625, 0.875], showgrid: true, gridcolor: "#EBEBEB", gridwidth: 0.7, ticks: ""},
    zeroline: false,
    showline: true, mirror: true, linecolor: "#7F7F7F", linewidth: 1.6,
    fixedrange: true
  };

  // facet strip
  layout.shapes.push({
    type: "rect", xref: "paper", yref: "paper",
    x0: px(colX[p.col][0]), x1: px(colX[p.col][1]),
    y0: py(stripY[p.row][1]), y1: py(stripY[p.row][0]),
    fillcolor: "#CCCCCC", line: {color: "#7F7F7F", width: 1.6}, layer: "above"
  });
  layout.annotations.push({
    text: p.site, xref: "paper", yref: "paper",
    x: px((colX[p.col][0] + colX[p.col][1]) / 2),
    y: py((stripY[p.row][0] + stripY[p.row][1]) / 2),
    xanchor: "center", yanchor: "middle", showarrow: false,
    font: {family: FONT, size: 21, color: "#1A1A1A"}
  });
});

// axis titles
layout.annotations.push({
  text: "Normalized power", xref: "paper", yref: "paper",
  x: px(28), y: py(389), xanchor: "center", yanchor: "middle",
  textangle: -90, showarrow: false,
  font: {family: "DejaVu Sans Condensed, DejaVu Sans, sans-serif", size: 31, color: "#000000"}
});
layout.annotations.push({
  text: "Hour of jan 2021", xref: "paper", yref: "paper",
  x: px(616), y: py(784), xanchor: "center", yanchor: "middle",
  showarrow: false,
  font: {family: FONT, size: 26, color: "#000000"}
});

// legend (drawn as keys + labels, ggplot style)
layout.annotations.push({
  text: "legend", xref: "paper", yref: "paper",
  x: px(810), y: py(485), xanchor: "left", yanchor: "middle",
  showarrow: false, font: {family: FONT, size: 26, color: "#000000"}
});
const keyCenters = [522, 565.7, 609.3, 653];
const keyStyles = [
  {color: colors.api, dash: "solid", width: 2.2},
  {color: colors.dec, dash: "dash", width: 2},
  {color: colors.sim, dash: "solid", width: 2.2},
  {color: colors.real, dash: "solid", width: 2}
];
seriesNames.forEach((nm, k) => {
  const cy = keyCenters[k];
  layout.shapes.push({
    type: "rect", xref: "paper", yref: "paper",
    x0: px(812), x1: px(851), y0: py(cy + 19), y1: py(cy - 19),
    fillcolor: "#F2F2F2", line: {color: "#D4D4D4", width: 1}
  });
  layout.shapes.push({
    type: "line", xref: "paper", yref: "paper",
    x0: px(812.5), x1: px(850.5), y0: py(cy), y1: py(cy),
    line: keyStyles[k]
  });
  layout.annotations.push({
    text: nm, xref: "paper", yref: "paper",
    x: px(857), y: py(cy), xanchor: "left", yanchor: "middle",
    showarrow: false, font: {family: FONT, size: 21.3, color: "#1A1A1A"}
  });
});

Plotly.newPlot("chart", traces, layout, {staticPlot: true, displayModeBar: false});
</script>
</body>
</html>
